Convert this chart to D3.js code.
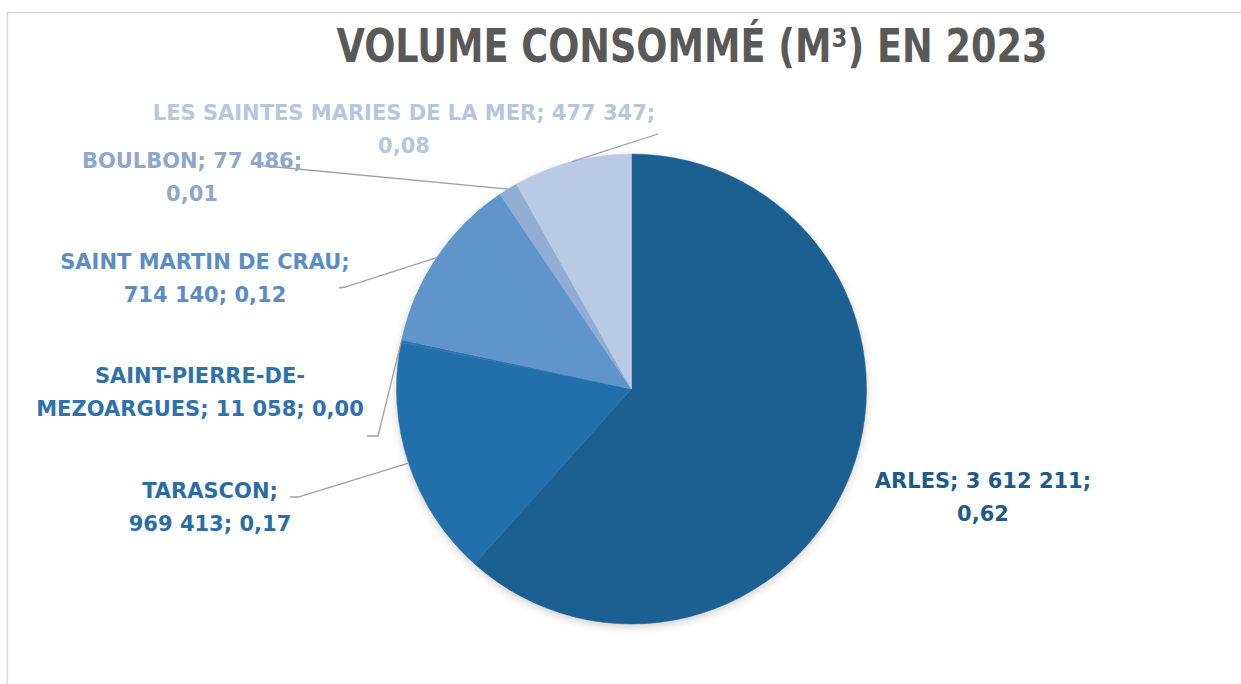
<!DOCTYPE html>
<html>
<head>
<meta charset="utf-8">
<script src="https://cdn.jsdelivr.net/npm/d3@7"></script>
<style>
  html, body { margin: 0; padding: 0; background: #fff; }
  svg { display: block; }
</style>
</head>
<body>
<svg id="chart" width="1241" height="684"></svg>
<script>
const title = "VOLUME CONSOMMÉ (M³) EN 2023";
const categories = ["ARLES", "TARASCON", "SAINT-PIERRE-DE-MEZOARGUES", "SAINT MARTIN DE CRAU", "BOULBON", "LES SAINTES MARIES DE LA MER"];
const volumes = [3612211, 969413, 11058, 714140, 77486, 477347];
const shares = [0.62, 0.17, 0.00, 0.12, 0.01, 0.08];
const sliceColors = ["#1c5e91", "#2170aa", "#2a74b2", "#6195cb", "#92add3", "#b9cbe4"];
const labelColors = ["#1d5b8c", "#2a6ca6", "#2f71ad", "#5a8dc5", "#8da7ce", "#b5c6df"];

// label layout (line texts built from the data; positions are layout only)
const labelLayout = [
  { lines: d => [`${d.cat}; ${d.vol};`, d.share], x: 983, y: 488, elbow: null },
  { lines: d => [`${d.cat};`, `${d.vol}; ${d.share}`], x: 210, y: 498, elbow: [[290, 497], [298, 497]] },
  { lines: d => ["SAINT-PIERRE-DE-", `MEZOARGUES; ${d.vol}; ${d.share}`], x: 200, y: 383, elbow: [[367, 436], [378, 436]] },
  { lines: d => [`${d.cat};`, `${d.vol}; ${d.share}`], x: 205, y: 269, elbow: [[339, 288], [345, 287]] },
  { lines: d => [`${d.cat}; ${d.vol};`, d.share], x: 192, y: 168, elbow: [[262, 166], [266, 166]] },
  { lines: d => [`${d.cat}; ${d.vol};`, d.share], x: 404, y: 120, elbow: [[658, 134], [658, 134]] }
];

const fr = d3.formatLocale({ decimal: ",", thousands: " ", grouping: [3], currency: ["", " €"] });
const fmtVol = fr.format(",d");
const fmtShare = fr.format(".2f");

const svg = d3.select("#chart");

// frame
svg.append("path")
  .attr("d", "M7.5,684 V12.5 H1241")
  .attr("fill", "none")
  .attr("stroke", "#d9d9d9")
  .attr("stroke-width", 1.5);

// title
svg.append("text")
  .attr("x", 692)
  .attr("y", 62)
  .attr("text-anchor", "middle")
  .attr("font-family", "'DejaVu Sans Condensed', 'DejaVu Sans', sans-serif")
  .attr("font-weight", "bold")
  .attr("font-size", 46)
  .attr("textLength", 711)
  .attr("lengthAdjust", "spacingAndGlyphs")
  .attr("fill", "#595959")
  .text(title);

const data = categories.map((c, i) => ({
  cat: c, value: volumes[i], vol: fmtVol(volumes[i]), share: fmtShare(shares[i]),
  color: sliceColors[i], lcolor: labelColors[i], layout: labelLayout[i]
}));

const cx = 631.5, cy = 389, R = 235;

const defs = svg.append("defs");
const f = defs.append("filter").attr("id", "shadow").attr("x", "-20%").attr("y", "-20%").attr("width", "140%").attr("height", "140%");
f.append("feDropShadow").attr("dx", 0).attr("dy", 3).attr("stdDeviation", 4).attr("flood-color", "#000").attr("flood-opacity", 0.18);

const pie = d3.pie().sort(null).value(d => d.value);
const arc = d3.arc().innerRadius(0).outerRadius(R);
const arcs = pie(data);

const g = svg.append("g").attr("transform", `translate(${cx},${cy})`);
g.append("g").attr("filter", "url(#shadow)")
  .selectAll("path")
  .data(arcs)
  .join("path")
  .attr("d", arc)
  .attr("fill", d => d.data.color)
  .attr("stroke", d => d.data.color)
  .attr("stroke-width", 0.5);

// leader lines
arcs.forEach(a => {
  const L = a.data.layout;
  if (!L.elbow) return;
  const mid = (a.startAngle + a.endAngle) / 2;
  const px = cx + R * Math.sin(mid), py = cy - R * Math.cos(mid);
  const pts = [L.elbow[0], L.elbow[1], [px, py]];
  svg.append("path")
    .attr("d", d3.line()(pts))
    .attr("fill", "none")
    .attr("stroke", "#a0a0a0")
    .attr("stroke-width", 1.3);
});

// labels
arcs.forEach(a => {
  const d = a.data, L = d.layout;
  const t = svg.append("text")
    .attr("text-anchor", "middle")
    .attr("font-family", "'DejaVu Sans', sans-serif")
    .attr("font-weight", "bold")
    .attr("font-size", 21)
    .attr("fill", d.lcolor);
  L.lines(d).forEach((ln, i) => {
    t.append("tspan").attr("x", L.x).attr("y", L.y + i * 32.5).text(ln);
  });
});
</script>
</body>
</html>
